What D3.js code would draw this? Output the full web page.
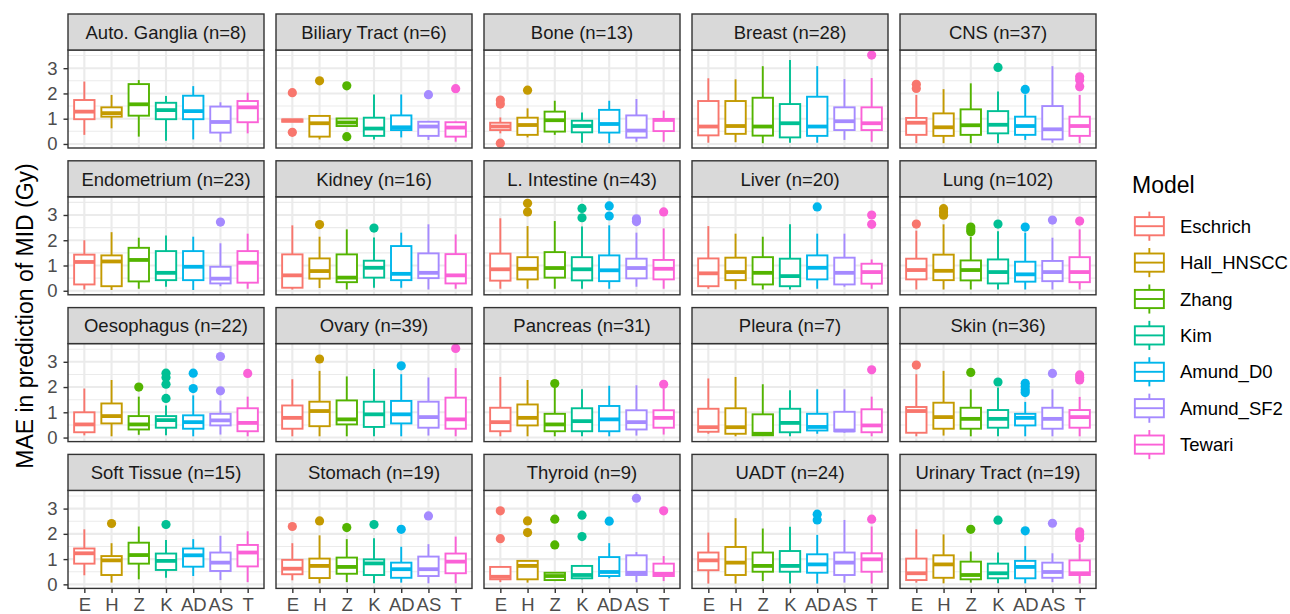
<!DOCTYPE html>
<html>
<head>
<meta charset="utf-8">
<script src="https://cdn.jsdelivr.net/npm/d3@7"></script>
<style>
  body { margin: 0; background: #fff; }
  svg { display: block; font-family: "Liberation Sans", Arial, Helvetica, sans-serif; }
</style>
</head>
<body>
<svg id="chart" width="1290" height="614"></svg>
<script>
// ---- Data: MAE in prediction of MID (Gy) per tumour site and model ----
const tissues = ["Auto. Ganglia", "Biliary Tract", "Bone", "Breast", "CNS",
  "Endometrium", "Kidney", "L. Intestine", "Liver", "Lung",
  "Oesophagus", "Ovary", "Pancreas", "Pleura", "Skin",
  "Soft Tissue", "Stomach", "Thyroid", "UADT", "Urinary Tract"];
const sampleSizes = [8, 6, 13, 28, 37, 23, 16, 43, 20, 102, 22, 39, 31, 7, 36, 15, 19, 9, 24, 19];
const models = ["Eschrich", "Hall_HNSCC", "Zhang", "Kim", "Amund_D0", "Amund_SF2", "Tewari"];
const modelCodes = ["E", "H", "Z", "K", "AD", "AS", "T"];
const modelColors = ["#F8766D", "#C49A00", "#53B400", "#00C094", "#00B6EB", "#A58AFF", "#FB61D7"];
const yTicks = [0, 1, 2, 3];

// Box statistics, one row per tissue, columns in model order E,H,Z,K,AD,AS,T
const whiskerLow = [
  [0.36, 0.62, 0.29, 0.13, 0.18, 0.09, 0.42],
  [0.88, 0.18, 0.71, 0.18, 0.26, 0.16, 0.09],
  [0.42, 0.26, 0.36, 0.05, 0.03, 0.09, 0.09],
  [0.05, 0.07, 0.03, 0.05, 0.05, 0.16, 0.09],
  [0.03, 0.03, 0.03, 0.03, 0.16, 0.05, 0.03],
  [0.05, 0.03, 0.08, 0.16, 0.03, 0.18, 0.08],
  [0.05, 0.11, 0.05, 0.12, 0.12, 0.05, 0.08],
  [0.08, 0.08, 0.08, 0.08, 0.08, 0.16, 0.08],
  [0.08, 0.05, 0.05, 0.05, 0.08, 0.16, 0.08],
  [0.05, 0.05, 0.05, 0.05, 0.05, 0.05, 0.05],
  [0.09, 0.05, 0.11, 0.09, 0.05, 0.12, 0.05],
  [0.05, 0.05, 0.05, 0.05, 0.05, 0.08, 0.05],
  [0.05, 0.05, 0.05, 0.05, 0.05, 0.08, 0.12],
  [0.15, 0.05, 0.09, 0.05, 0.15, 0.19, 0.05],
  [0.05, 0.08, 0.05, 0.05, 0.05, 0.05, 0.05],
  [0.36, 0.07, 0.20, 0.26, 0.33, 0.17, 0.09],
  [0.16, 0.04, 0.09, 0.04, 0.07, 0.04, 0.04],
  [0.09, 0.07, 0.13, 0.20, 0.24, 0.09, 0.13],
  [0.03, 0.03, 0.13, 0.03, 0.03, 0.07, 0.03],
  [0.07, 0.04, 0.07, 0.04, 0.04, 0.09, 0.03]
];
const quartile1 = [
  [0.98, 1.08, 1.12, 0.98, 0.98, 0.45, 0.86],
  [0.88, 0.29, 0.71, 0.32, 0.55, 0.32, 0.29],
  [0.55, 0.36, 0.49, 0.46, 0.45, 0.25, 0.51],
  [0.34, 0.40, 0.33, 0.26, 0.32, 0.55, 0.55],
  [0.36, 0.32, 0.36, 0.42, 0.36, 0.18, 0.32],
  [0.25, 0.18, 0.37, 0.42, 0.42, 0.29, 0.32],
  [0.12, 0.48, 0.34, 0.52, 0.42, 0.50, 0.29],
  [0.40, 0.45, 0.52, 0.41, 0.38, 0.49, 0.45],
  [0.18, 0.42, 0.25, 0.18, 0.45, 0.25, 0.28],
  [0.45, 0.42, 0.41, 0.29, 0.36, 0.38, 0.34],
  [0.21, 0.56, 0.32, 0.39, 0.35, 0.48, 0.25],
  [0.35, 0.45, 0.52, 0.42, 0.56, 0.39, 0.35],
  [0.25, 0.48, 0.25, 0.25, 0.25, 0.32, 0.39],
  [0.23, 0.15, 0.09, 0.21, 0.28, 0.25, 0.21],
  [0.19, 0.35, 0.35, 0.39, 0.48, 0.35, 0.39],
  [0.82, 0.37, 0.82, 0.57, 0.70, 0.53, 0.71],
  [0.40, 0.25, 0.42, 0.37, 0.26, 0.33, 0.44],
  [0.20, 0.20, 0.17, 0.24, 0.33, 0.37, 0.33],
  [0.56, 0.37, 0.50, 0.50, 0.46, 0.37, 0.50],
  [0.17, 0.26, 0.20, 0.24, 0.24, 0.26, 0.37]
];
const medians = [
  [1.28, 1.22, 1.57, 1.34, 1.30, 0.87, 1.45],
  [0.93, 0.82, 0.85, 0.61, 0.66, 0.69, 0.65],
  [0.69, 0.75, 0.94, 0.71, 0.79, 0.53, 0.95],
  [0.69, 0.71, 0.69, 0.82, 0.69, 0.90, 0.82],
  [0.84, 0.66, 0.74, 0.76, 0.71, 0.58, 0.71],
  [1.14, 1.16, 1.22, 0.71, 0.95, 0.48, 1.11],
  [0.61, 0.78, 0.52, 0.91, 0.67, 0.71, 0.61],
  [0.85, 0.87, 0.90, 0.85, 0.81, 0.90, 0.87],
  [0.69, 0.74, 0.71, 0.58, 0.91, 0.71, 0.74],
  [0.82, 0.79, 0.82, 0.74, 0.65, 0.74, 0.74],
  [0.52, 0.85, 0.52, 0.69, 0.61, 0.68, 0.58],
  [0.78, 1.05, 0.72, 0.92, 0.92, 0.81, 0.72],
  [0.61, 0.78, 0.52, 0.65, 0.72, 0.61, 0.78],
  [0.41, 0.41, 0.15, 0.58, 0.42, 0.28, 0.48],
  [1.05, 0.81, 0.74, 0.74, 0.78, 0.74, 0.81],
  [1.23, 0.95, 1.16, 0.93, 1.15, 0.86, 1.26],
  [0.62, 0.73, 0.69, 0.83, 0.60, 0.60, 0.90],
  [0.30, 0.73, 0.33, 0.37, 0.49, 0.46, 0.42],
  [0.95, 0.86, 0.73, 0.73, 0.79, 0.86, 0.99],
  [0.44, 0.79, 0.37, 0.44, 0.69, 0.49, 0.44]
];
const quartile3 = [
  [1.74, 1.45, 2.37, 1.63, 1.91, 1.48, 1.70],
  [0.97, 1.11, 1.01, 1.04, 1.13, 0.88, 0.86],
  [0.84, 1.04, 1.28, 0.92, 1.35, 1.13, 0.99],
  [1.70, 1.70, 1.83, 1.58, 1.87, 1.45, 1.45],
  [1.03, 1.21, 1.37, 1.30, 1.08, 1.50, 1.08],
  [1.43, 1.40, 1.70, 1.57, 1.57, 0.95, 1.57],
  [1.44, 1.28, 1.44, 1.19, 1.77, 1.48, 1.45],
  [1.47, 1.33, 1.53, 1.33, 1.40, 1.27, 1.22],
  [1.28, 1.31, 1.33, 1.27, 1.40, 1.31, 1.07],
  [1.27, 1.43, 1.20, 1.24, 1.15, 1.18, 1.33],
  [1.00, 1.35, 0.85, 0.85, 0.88, 0.94, 1.16],
  [1.27, 1.42, 1.47, 1.42, 1.45, 1.42, 1.58],
  [1.18, 1.31, 0.94, 1.16, 1.25, 1.08, 1.08],
  [1.14, 1.16, 0.92, 1.14, 0.94, 1.02, 1.12],
  [1.21, 1.38, 1.18, 1.09, 0.94, 1.18, 1.09],
  [1.42, 1.12, 1.65, 1.22, 1.42, 1.26, 1.56],
  [0.97, 1.02, 1.06, 0.99, 0.86, 1.10, 1.22],
  [0.69, 0.93, 0.46, 0.73, 1.08, 1.15, 0.82],
  [1.26, 1.48, 1.26, 1.32, 1.19, 1.26, 1.23],
  [1.02, 1.15, 0.90, 0.82, 0.93, 0.86, 0.95]
];
const whiskerHigh = [
  [2.47, 1.94, 2.53, 1.90, 2.29, 1.65, 2.03],
  [0.97, 1.11, 1.01, 1.96, 1.96, 0.88, 0.88],
  [1.05, 1.41, 1.71, 1.25, 1.71, 1.78, 1.32],
  [2.60, 2.56, 3.08, 3.32, 3.08, 2.57, 2.61],
  [1.94, 2.17, 2.40, 2.08, 1.96, 3.08, 1.94],
  [2.00, 2.32, 2.10, 2.19, 2.14, 1.88, 2.26],
  [2.59, 2.14, 2.43, 2.11, 2.30, 2.63, 2.23],
  [2.87, 2.56, 2.76, 2.54, 2.59, 2.30, 2.47],
  [2.56, 2.26, 2.14, 2.63, 2.26, 2.26, 1.24],
  [2.38, 2.63, 2.14, 2.36, 2.30, 2.10, 2.43],
  [1.94, 2.28, 1.62, 1.27, 1.67, 1.47, 1.62],
  [2.31, 2.64, 2.42, 2.71, 2.51, 2.38, 2.75],
  [2.40, 2.28, 1.98, 1.91, 2.05, 2.07, 1.94],
  [2.34, 2.40, 2.11, 1.87, 1.91, 1.91, 1.62],
  [2.51, 2.64, 1.91, 1.98, 1.41, 1.91, 1.61],
  [2.18, 1.63, 2.29, 1.76, 1.79, 1.92, 2.10],
  [1.63, 1.94, 1.79, 1.83, 1.49, 1.59, 1.89],
  [0.69, 0.93, 0.46, 0.73, 1.63, 1.28, 1.12],
  [2.05, 2.62, 2.21, 2.28, 1.96, 2.55, 2.29],
  [2.18, 1.98, 1.30, 1.26, 1.52, 1.23, 1.59]
];
const outliers = [
  [[], [], [], [], [], [], []],
  [[2.03, 0.46], [2.50], [2.30, 0.29], [], [], [1.95], [2.19]],
  [[1.74, 1.58, 0.03], [2.13], [], [], [], [], []],
  [[], [], [], [], [], [], [3.52]],
  [[2.36, 2.20], [], [], [3.03], [2.16], [], [2.66, 2.53, 2.27]],
  [[], [], [], [], [], [2.72], []],
  [[], [2.62], [], [2.48], [], [], []],
  [[], [3.46, 3.12], [], [3.26, 2.89], [3.36, 2.96], [2.85, 2.74], [3.12]],
  [[], [], [], [], [3.32], [], [3.00, 2.63]],
  [[2.64], [3.25, 3.12, 2.99], [2.52, 2.42, 2.34], [2.64], [2.52], [2.80], [2.76]],
  [[], [], [2.00], [2.55, 2.38, 2.11, 1.55], [2.55, 1.94], [3.21, 1.85], [2.54]],
  [[], [3.11], [], [], [2.84], [], [3.53]],
  [[], [], [2.14], [], [], [], [2.11]],
  [[], [], [], [], [], [], [2.68]],
  [[2.87], [], [2.58], [2.20], [2.15, 2.02, 1.88, 1.78], [2.54], [2.48, 2.38, 2.28]],
  [[], [2.41], [], [2.37], [], [], []],
  [[2.29], [2.51], [2.25], [2.37], [2.18], [2.71], []],
  [[2.91, 1.81], [2.51, 2.05], [2.58, 1.56], [2.74, 1.89], [2.50], [3.41], [2.91]],
  [[], [], [], [], [2.78, 2.55], [], [2.58]],
  [[], [], [2.18], [2.54], [2.12], [2.42], [2.08, 1.96, 1.84]]
];

// ---- Layout ----
const nCols = 5;
const gridLeft = 68, gridTop = 14;
const panelW = 196, colStep = 208, rowStep = 146.8;
const stripH = 36, panelH = 98;
const yDomain = [-0.16, 3.72];
const boxStroke = 1.9, medianStroke = 3.8, pointR = 4.6;
const gridColor = "#EBEBEB", frameColor = "#333333";

const svg = d3.select("#chart");
svg.append("rect").attr("width", 1290).attr("height", 614).attr("fill", "#fff");

tissues.forEach((tissue, i) => {
  const row = Math.floor(i / nCols), col = i % nCols;
  const x0 = gridLeft + col * colStep;
  const sTop = gridTop + row * rowStep;
  const pTop = sTop + stripH, pBot = pTop + panelH;

  const x = d3.scalePoint().domain(modelCodes).range([x0, x0 + panelW]).padding(0.6);
  const y = d3.scaleLinear().domain(yDomain).range([pBot, pTop]);
  const boxW = x.step() * 0.75;

  const g = svg.append("g").attr("class", "panel");

  // panel background and grid
  g.append("rect").attr("x", x0).attr("y", pTop).attr("width", panelW).attr("height", panelH).attr("fill", "#fff");
  const minor = [0.5, 1.5, 2.5, 3.5];
  g.selectAll("line.minor").data(minor).join("line")
    .attr("x1", x0).attr("x2", x0 + panelW)
    .attr("y1", d => y(d)).attr("y2", d => y(d))
    .attr("stroke", gridColor).attr("stroke-width", 1.05);
  g.selectAll("line.hmajor").data(yTicks).join("line")
    .attr("x1", x0).attr("x2", x0 + panelW)
    .attr("y1", d => y(d)).attr("y2", d => y(d))
    .attr("stroke", gridColor).attr("stroke-width", 2.1);
  g.selectAll("line.vmajor").data(modelCodes).join("line")
    .attr("x1", d => x(d)).attr("x2", d => x(d))
    .attr("y1", pTop).attr("y2", pBot)
    .attr("stroke", gridColor).attr("stroke-width", 2.1);

  // boxplots
  const stats = modelCodes.map((code, j) => ({
    code, color: modelColors[j],
    lo: whiskerLow[i][j], q1: quartile1[i][j], med: medians[i][j],
    q3: quartile3[i][j], hi: whiskerHigh[i][j], out: outliers[i][j]
  }));
  const bx = g.selectAll("g.box").data(stats).join("g").attr("class", "box");
  bx.append("line")
    .attr("x1", d => x(d.code)).attr("x2", d => x(d.code))
    .attr("y1", d => y(d.q3)).attr("y2", d => y(d.hi))
    .attr("stroke", d => d.color).attr("stroke-width", boxStroke);
  bx.append("line")
    .attr("x1", d => x(d.code)).attr("x2", d => x(d.code))
    .attr("y1", d => y(d.q1)).attr("y2", d => y(d.lo))
    .attr("stroke", d => d.color).attr("stroke-width", boxStroke);
  bx.append("rect")
    .attr("x", d => x(d.code) - boxW / 2).attr("width", boxW)
    .attr("y", d => y(d.q3)).attr("height", d => Math.max(0, y(d.q1) - y(d.q3)))
    .attr("fill", "#fff").attr("stroke", d => d.color).attr("stroke-width", boxStroke);
  bx.append("line")
    .attr("x1", d => x(d.code) - boxW / 2).attr("x2", d => x(d.code) + boxW / 2)
    .attr("y1", d => y(d.med)).attr("y2", d => y(d.med))
    .attr("stroke", d => d.color).attr("stroke-width", medianStroke);
  bx.selectAll("circle").data(d => d.out.map(v => ({ v, code: d.code, color: d.color }))).join("circle")
    .attr("cx", d => x(d.code)).attr("cy", d => y(d.v)).attr("r", pointR)
    .attr("fill", d => d.color);

  // panel border
  g.append("rect").attr("x", x0).attr("y", pTop).attr("width", panelW).attr("height", panelH)
    .attr("fill", "none").attr("stroke", frameColor).attr("stroke-width", 1.4);

  // strip
  g.append("rect").attr("x", x0).attr("y", sTop).attr("width", panelW).attr("height", stripH)
    .attr("fill", "#D9D9D9").attr("stroke", frameColor).attr("stroke-width", 1.4);
  g.append("text").attr("x", x0 + panelW / 2).attr("y", sTop + stripH / 2 + 6.7)
    .attr("text-anchor", "middle").attr("font-size", 18.5).attr("fill", "#1A1A1A")
    .text(`${tissue} (n=${sampleSizes[i]})`);

  // axes on outer panels only
  if (col === 0) {
    const ax = g.append("g").attr("transform", `translate(${x0},0)`)
      .call(d3.axisLeft(y).tickValues(yTicks).tickSize(4.5).tickPadding(6).tickFormat(d3.format("d")));
    ax.select(".domain").remove();
    ax.selectAll(".tick line").attr("stroke", frameColor).attr("stroke-width", 1.4);
    ax.selectAll(".tick text").attr("font-size", 18.5).attr("fill", "#4D4D4D")
      .attr("font-family", "Liberation Sans, Arial, sans-serif");
  }
  if (row === 3) {
    const ax = g.append("g").attr("transform", `translate(0,${pBot})`)
      .call(d3.axisBottom(x).tickSize(4.7).tickPadding(4.5));
    ax.select(".domain").remove();
    ax.selectAll(".tick line").attr("stroke", frameColor).attr("stroke-width", 1.4);
    ax.selectAll(".tick text").attr("font-size", 18.5).attr("fill", "#4D4D4D")
      .attr("font-family", "Liberation Sans, Arial, sans-serif");
  }
});

// y axis title
svg.append("text")
  .attr("transform", "translate(33,316) rotate(-90)")
  .attr("text-anchor", "middle").attr("font-size", 23).attr("fill", "#000")
  .text("MAE in prediction of MID (Gy)");

// legend
const legendX = 1132, keyW = 38.7, keyH = 36.4, firstKeyY = 208;
const legend = svg.append("g").attr("class", "legend");
legend.append("text").attr("x", legendX).attr("y", 193).attr("font-size", 23).attr("fill", "#000").text("Model");
const keyY = d3.scaleBand().domain(models).range([firstKeyY, firstKeyY + keyH * models.length]);
const items = legend.selectAll("g.item").data(models).join("g").attr("class", "item")
  .attr("transform", d => `translate(${legendX - 2},${keyY(d)})`);
items.each(function (d, j) {
  const k = d3.select(this), c = modelColors[j];
  const w = keyW, h = keyH;
  k.append("line").attr("x1", w / 2).attr("x2", w / 2).attr("y1", h * 0.1).attr("y2", h * 0.25)
    .attr("stroke", c).attr("stroke-width", boxStroke);
  k.append("line").attr("x1", w / 2).attr("x2", w / 2).attr("y1", h * 0.75).attr("y2", h * 0.9)
    .attr("stroke", c).attr("stroke-width", boxStroke);
  k.append("rect").attr("x", w * 0.125).attr("width", w * 0.75).attr("y", h * 0.25).attr("height", h * 0.5)
    .attr("fill", "#fff").attr("stroke", c).attr("stroke-width", boxStroke);
  k.append("line").attr("x1", w * 0.125).attr("x2", w * 0.875).attr("y1", h / 2).attr("y2", h / 2)
    .attr("stroke", c).attr("stroke-width", boxStroke);
  k.append("text").attr("x", 50).attr("y", h / 2 + 6.7).attr("font-size", 18.5).attr("fill", "#000").text(d);
});
</script>
</body>
</html>
